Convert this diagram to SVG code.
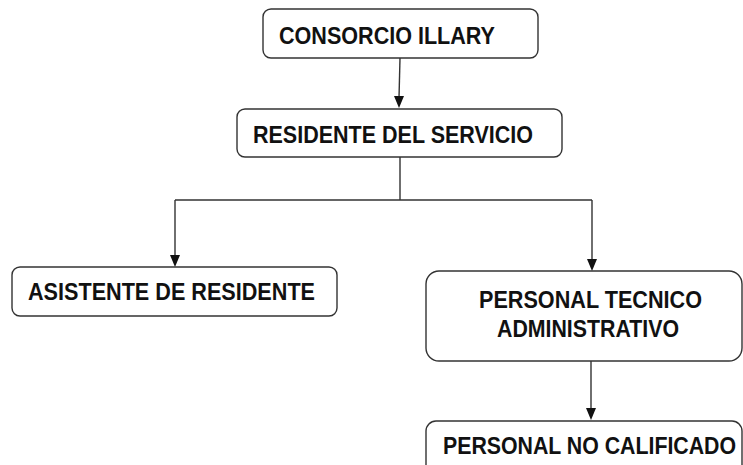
<svg xmlns="http://www.w3.org/2000/svg" width="743" height="465" viewBox="0 0 743 465">
<style>
.box{fill:#fff;stroke:#333;stroke-width:1.4}
.t{font-family:"Liberation Sans",Arial,sans-serif;font-weight:bold;font-size:24px;fill:#111}
.c{fill:none;stroke:#333;stroke-width:1.4}
.ah{fill:#111}
</style>
<rect width="743" height="465" fill="#fff"/>
<g id="connectors">
<path class="c" d="M400,58 L399,98"/>
<path class="ah" d="M394,96 L404,96 L399,108 Z"/>
<path class="c" d="M400,157 L400,200 M175,200 L592,200"/>
<path class="c" d="M175,200 L175,257"/>
<path class="ah" d="M170,255 L180,255 L175,267 Z"/>
<path class="c" d="M592,200 L592,261"/>
<path class="ah" d="M587,259 L597,259 L592,271 Z"/>
<path class="c" d="M591,361 L591,410"/>
<path class="ah" d="M586,408 L596,408 L591,420 Z"/>
</g>
<g id="n1">
<rect class="box" x="263" y="9" width="275" height="49" rx="8"/>
<text class="t" x="279" y="44" textLength="216" lengthAdjust="spacingAndGlyphs">CONSORCIO ILLARY</text>
</g>
<g id="n2">
<rect class="box" x="237" y="109" width="325" height="48" rx="8"/>
<text class="t" x="253" y="143" textLength="280" lengthAdjust="spacingAndGlyphs">RESIDENTE DEL SERVICIO</text>
</g>
<g id="n3">
<rect class="box" x="12" y="267" width="325" height="49" rx="8"/>
<text class="t" x="28" y="300" textLength="287" lengthAdjust="spacingAndGlyphs">ASISTENTE DE RESIDENTE</text>
</g>
<g id="n4">
<rect class="box" x="426" y="271" width="316" height="90" rx="13"/>
<text class="t" x="479" y="307.5" textLength="223" lengthAdjust="spacingAndGlyphs">PERSONAL TECNICO</text>
<text class="t" x="497" y="337" textLength="182" lengthAdjust="spacingAndGlyphs">ADMINISTRATIVO</text>
</g>
<g id="n5">
<rect class="box" x="426" y="421" width="316" height="60" rx="10"/>
<text class="t" x="443" y="454" textLength="293" lengthAdjust="spacingAndGlyphs">PERSONAL NO CALIFICADO</text>
</g>
</svg>
